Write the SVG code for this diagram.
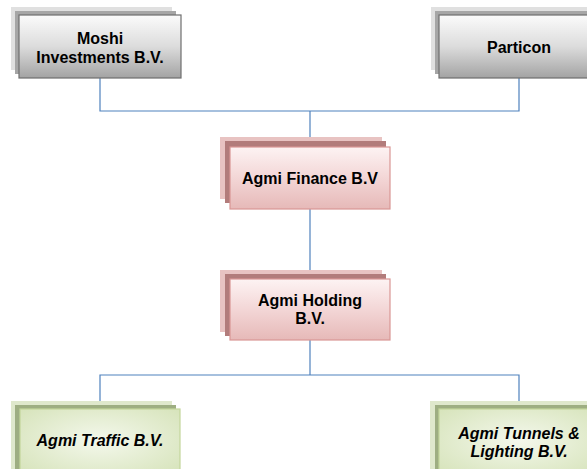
<svg xmlns="http://www.w3.org/2000/svg" width="587" height="469" viewBox="0 0 587 469">
<defs>
<linearGradient id="gGray" x1="0" y1="0" x2="0" y2="1">
<stop offset="0" stop-color="#fbfbfb"/><stop offset="0.5" stop-color="#dcdcdc"/><stop offset="1" stop-color="#a3a3a3"/>
</linearGradient>
<linearGradient id="gPink" x1="0" y1="0" x2="0" y2="1">
<stop offset="0" stop-color="#fdf3f3"/><stop offset="0.5" stop-color="#f3d6d6"/><stop offset="1" stop-color="#e6b9b8"/>
</linearGradient>
<radialGradient id="gGreen" cx="0.5" cy="0.45" r="0.75">
<stop offset="0" stop-color="#f4f8ec"/><stop offset="1" stop-color="#d3e1b5"/>
</radialGradient>
<style>
.conn{fill:none;stroke:#4f81bd;stroke-width:1.2}
.t{font-family:"Liberation Sans",Arial,sans-serif;font-size:16px;font-weight:bold;fill:#000;text-anchor:middle}
.ti{font-style:italic}
.grayB{fill:#e0e0e0}.grayM{fill:#a6a6a6}.grayF{fill:url(#gGray);stroke:#6e6e6e;stroke-width:1.2}
.pinkB{fill:#e8c3c2}.pinkM{fill:#b27c7b}.pinkF{fill:url(#gPink);stroke:#d99694;stroke-width:1.2}
.greenB{fill:#dfe8cc}.greenM{fill:#9eae82}.greenF{fill:url(#gGreen);stroke:#c3d69b;stroke-width:1.2}
</style>
</defs>
<g id="connectors">
<path class="conn" d="M100 78 V111 H519 V78"/>
<path class="conn" d="M310 111 V147"/>
<path class="conn" d="M310 209 V279"/>
<path class="conn" d="M310 340 V375"/>
<path class="conn" d="M100 409 V375 H519 V409"/>
</g>
<g id="moshi">
<rect class="grayB" x="11" y="7" width="161" height="63"/>
<rect class="grayM" x="15" y="11" width="161" height="63"/>
<rect class="grayF" x="19" y="15" width="162" height="63"/>
<text class="t" x="100" y="44">Moshi</text>
<text class="t" x="100" y="63">Investments B.V.</text>
</g>
<g id="particon">
<rect class="grayB" x="431" y="7" width="161" height="63"/>
<rect class="grayM" x="435" y="11" width="161" height="63"/>
<rect class="grayF" x="439" y="15" width="162" height="63"/>
<text class="t" x="519" y="53">Particon</text>
</g>
<g id="finance">
<rect class="pinkB" x="220" y="137" width="162" height="62"/>
<rect class="pinkM" x="225" y="141" width="161" height="62"/>
<rect class="pinkF" x="230" y="147" width="160" height="62"/>
<text class="t" x="310" y="184">Agmi Finance B.V</text>
</g>
<g id="holding">
<rect class="pinkB" x="220" y="270" width="162" height="62"/>
<rect class="pinkM" x="225" y="274" width="161" height="62"/>
<rect class="pinkF" x="230" y="279" width="160" height="61"/>
<text class="t" x="310" y="306">Agmi Holding</text>
<text class="t" x="310" y="324">B.V.</text>
</g>
<g id="traffic">
<rect class="greenB" x="11" y="401" width="161" height="70"/>
<rect class="greenM" x="15" y="405" width="161" height="70"/>
<rect class="greenF" x="20" y="409" width="160" height="70"/>
<text class="t ti" x="100" y="446">Agmi Traffic B.V.</text>
</g>
<g id="tunnels">
<rect class="greenB" x="430" y="401" width="161" height="70"/>
<rect class="greenM" x="435" y="405" width="161" height="70"/>
<rect class="greenF" x="439" y="409" width="160" height="70"/>
<text class="t ti" x="519" y="439">Agmi Tunnels &amp;</text>
<text class="t ti" x="519" y="457">Lighting B.V.</text>
</g>
</svg>
